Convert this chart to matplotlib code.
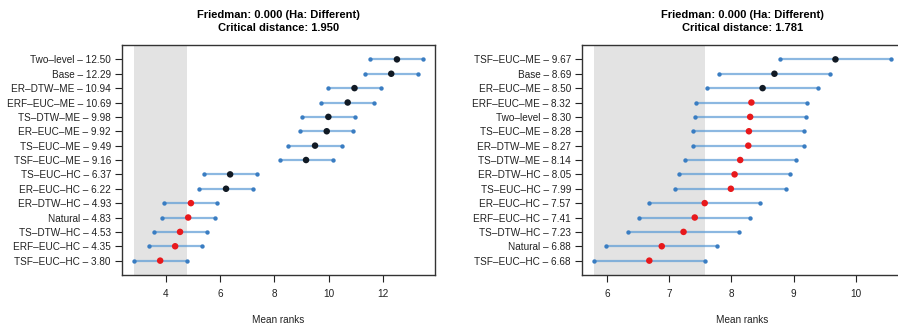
import numpy as np
import matplotlib.pyplot as plt
from matplotlib.ticker import MultipleLocator

plt.rcParams['font.family'] = ['Liberation Sans', 'DejaVu Sans']

# left panel
left_names = ['Two–level', 'Base', 'ER–DTW–ME', 'ERF–EUC–ME', 'TS–DTW–ME', 'ER–EUC–ME',
              'TS–EUC–ME', 'TSF–EUC–ME', 'TS–EUC–HC', 'ER–EUC–HC', 'ER–DTW–HC', 'Natural',
              'TS–DTW–HC', 'ERF–EUC–HC', 'TSF–EUC–HC']
left_ranks = [12.50, 12.29, 10.94, 10.69, 9.98, 9.92, 9.49, 9.16, 6.37, 6.22, 4.93, 4.83,
              4.53, 4.35, 3.80]
left_cd = 1.950

# right panel
right_names = ['TSF–EUC–ME', 'Base', 'ER–EUC–ME', 'ERF–EUC–ME', 'Two–level', 'TS–EUC–ME',
               'ER–DTW–ME', 'TS–DTW–ME', 'ER–DTW–HC', 'TS–EUC–HC', 'ER–EUC–HC', 'ERF–EUC–HC',
               'TS–DTW–HC', 'Natural', 'TSF–EUC–HC']
right_ranks = [9.67, 8.69, 8.50, 8.32, 8.30, 8.28, 8.27, 8.14, 8.05, 7.99, 7.57, 7.41,
               7.23, 6.88, 6.68]
right_cd = 1.781

friedman_p = 0.000


def cd_panel(ax, names, ranks, cd, step):
    ranks = np.array(ranks)
    n = len(ranks)
    y = np.arange(n, 0, -1)
    lo = ranks - cd / 2
    hi = ranks + cd / 2
    best = ranks.min()

    pad = 0.04 * (hi.max() - lo.min())
    ax.set_xlim(lo.min() - pad, hi.max() + pad)
    ax.set_ylim(0, n + 1)

    ax.axvspan(best - cd / 2, best + cd / 2, color='#e3e3e3', zorder=0, lw=0)
    ax.hlines(y, lo, hi, color='#5b9bd5', alpha=0.7, lw=1.6, zorder=2)
    ax.scatter(lo, y, s=10, color='#3a7dc2', zorder=3, lw=0)
    ax.scatter(hi, y, s=10, color='#3a7dc2', zorder=3, lw=0)
    same = ranks < best + cd
    ax.scatter(ranks, y, s=22, color=np.where(same, '#e8191c', '#111a24'), zorder=4, lw=0)

    ax.set_yticks(y)
    ax.set_yticklabels([f'{nm} – {r:.2f}' for nm, r in zip(names, ranks)])
    ax.xaxis.set_major_locator(MultipleLocator(step))
    ax.tick_params(axis='both', labelsize=7.2, length=5, width=0.8, pad=5,
                   color='#222222', labelcolor='#222222')
    ax.tick_params(axis='y', pad=3)
    ax.set_xlabel('Mean ranks', fontsize=7.2, labelpad=11.5, color='#222222')
    ax.set_title(f'Friedman: {friedman_p:.3f} (Ha: Different)\nCritical distance: {cd:.3f}',
                 fontsize=8, fontweight='bold', pad=10, linespacing=1.4)
    for s in ax.spines.values():
        s.set_linewidth(1.0)
        s.set_color('#333333')


fig = plt.figure(figsize=(8.98, 3.24), dpi=100)
ax1 = fig.add_axes([0.1359, 0.1512, 0.3486, 0.7099])
ax2 = fig.add_axes([0.6481, 0.1512, 0.3572, 0.7099])
cd_panel(ax1, left_names, left_ranks, left_cd, 2)
cd_panel(ax2, right_names, right_ranks, right_cd, 1)

fig.savefig('out.png', dpi=100)
